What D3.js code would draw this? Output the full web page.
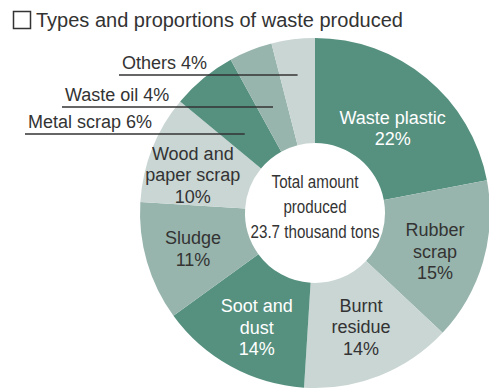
<!DOCTYPE html>
<html>
<head>
<meta charset="utf-8">
<script src="https://cdn.jsdelivr.net/npm/d3@7"></script>
<style>
  html, body { margin: 0; padding: 0; background: #ffffff; }
  svg { display: block; }
  text { font-family: "Liberation Sans", Arial, Helvetica, sans-serif; }
</style>
</head>
<body>
<svg id="chart" width="489" height="389"></svg>
<script>
// Waste types, clockwise from 12 o'clock ("\n" marks a label line break)
const categories = [
  "Waste plastic", "Rubber\nscrap", "Burnt\nresidue", "Soot and\ndust",
  "Sludge", "Wood and\npaper scrap", "Metal scrap", "Waste oil", "Others"
];
// Share of the total amount, percent
const values = [22, 15, 14, 14, 11, 10, 6, 4, 4];
const title = "Types and proportions of waste produced";
const centerLines = ["Total amount", "produced", "23.7 thousand tons"];

// Palette cycles dark, medium, light around the ring
const palette = ["#56917f", "#98b5ad", "#c9d6d3"];
const labelInk = ["#ffffff", "#333333", "#333333"];

const svg = d3.select("#chart");
const cx = 315, cy = 213, rOuter = 175, rInner = 70;

// Title with its square marker
svg.append("rect")
  .attr("x", 13.5).attr("y", 11.5).attr("width", 17).attr("height", 17)
  .attr("fill", "none").attr("stroke", "#333").attr("stroke-width", 1.5);
svg.append("text")
  .attr("x", 36).attr("y", 27)
  .attr("font-size", 20).attr("fill", "#333")
  .text(title);

const data = categories.map((c, i) => ({ name: c, value: values[i], idx: i }));

const pie = d3.pie().value(d => d.value).sort(null)
  .startAngle(0).endAngle(2 * Math.PI);
const arcs = pie(data);

const arc = d3.arc().innerRadius(rInner).outerRadius(rOuter);
const labelArc = d3.arc().innerRadius(125).outerRadius(125);

const g = svg.append("g").attr("transform", `translate(${cx},${cy})`);

g.selectAll("path.slice")
  .data(arcs)
  .join("path")
  .attr("class", "slice")
  .attr("d", arc)
  .attr("fill", d => palette[d.data.idx % 3]);

// In-slice labels for the larger shares
const nudge = {
  "Waste plastic": [-2, 12], "Rubber\nscrap": [0, 4], "Burnt\nresidue": [0, -2],
  "Soot and\ndust": [2, 5], "Sludge": [-2, 1], "Wood and\npaper scrap": [-6, 8]
};
const lh = 21.5;
arcs.filter(d => d.data.value >= 8).forEach(d => {
  const [x, y] = labelArc.centroid(d);
  const [nx, ny] = nudge[d.data.name] || [0, 0];
  const lines = d.data.name.split("\n").concat([d.data.value + "%"]);
  const top = y + ny - (lines.length - 1) * lh / 2 + 6;
  const t = g.append("text")
    .attr("text-anchor", "middle")
    .attr("font-size", 18)
    .attr("fill", labelInk[d.data.idx % 3]);
  lines.forEach((ln, k) => {
    t.append("tspan").attr("x", x + nx).attr("y", top + k * lh).text(ln);
  });
});

// Callouts for the small shares: underlined label running into the slice
const callRows = { "Metal scrap": [25, 134, 0.93], "Waste oil": [62, 107, 1], "Others": [119, 75, 1] };
arcs.filter(d => d.data.value < 8).forEach(d => {
  const [x0, yLine, reach] = callRows[d.data.name];
  const mid = (d.startAngle + d.endAngle) / 2;
  const dy = yLine - cy;
  const xEnd = cx + (-dy) * Math.tan(mid) / reach;
  svg.append("line")
    .attr("x1", x0).attr("x2", xEnd)
    .attr("y1", yLine).attr("y2", yLine)
    .attr("stroke", "#333").attr("stroke-width", 1.3);
  svg.append("text")
    .attr("x", x0 + 3).attr("y", yLine - 6)
    .attr("font-size", 18).attr("fill", "#333")
    .text(`${d.data.name} ${d.data.value}%`);
});

// Total in the hole, set in a condensed width
const ct = svg.append("g")
  .attr("transform", `translate(${cx},0) scale(0.82,1)`)
  .append("text")
  .attr("text-anchor", "middle")
  .attr("font-size", 18.5).attr("fill", "#333");
centerLines.forEach((ln, k) => {
  ct.append("tspan").attr("x", 0).attr("y", 188 + k * 25).text(ln);
});
</script>
</body>
</html>
